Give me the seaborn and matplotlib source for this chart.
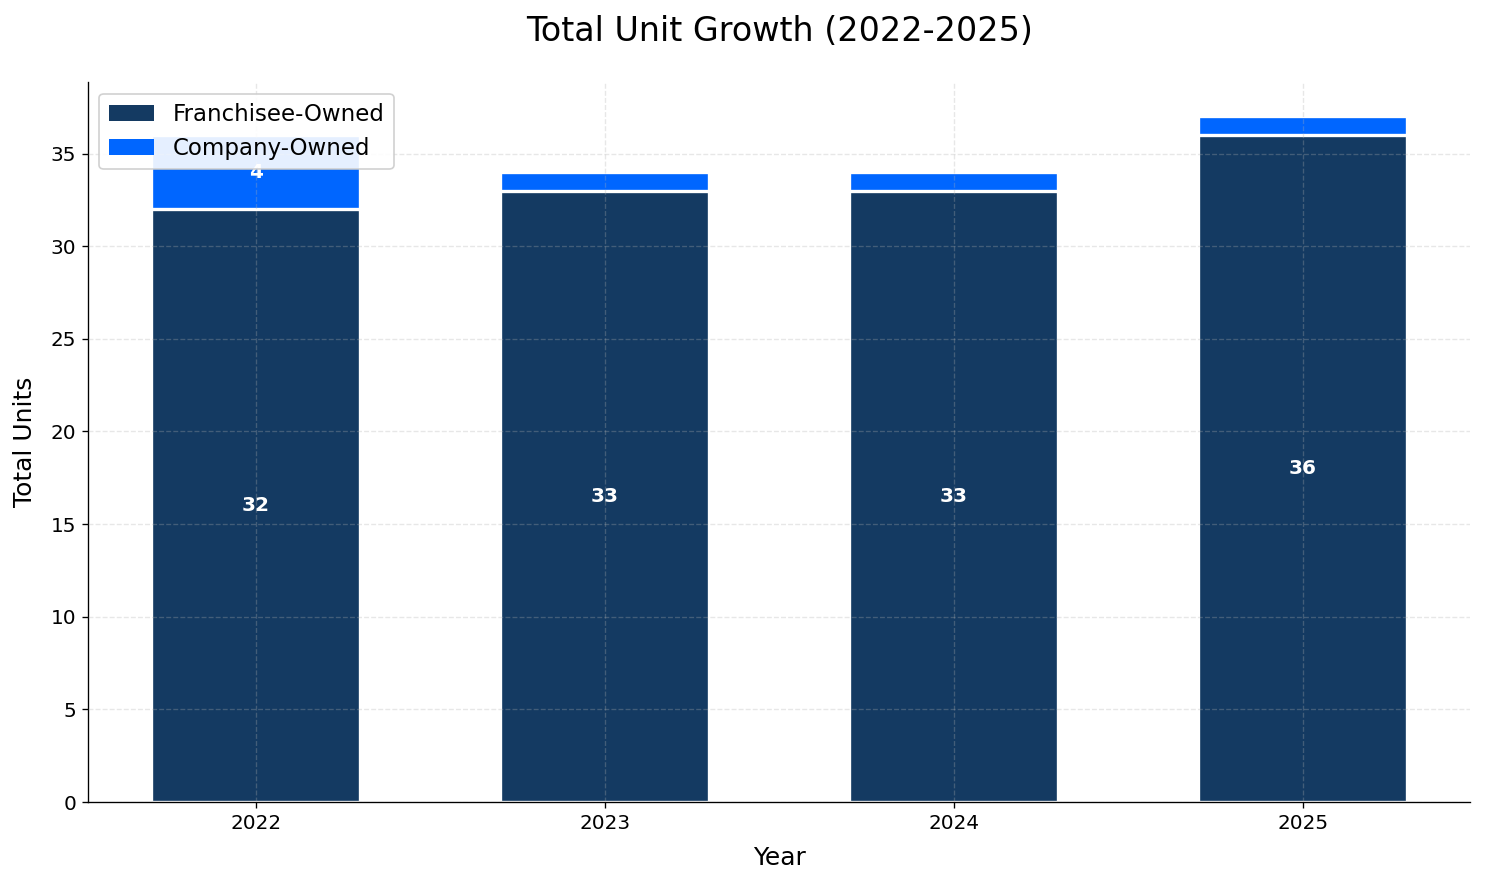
import pandas as pd
import seaborn as sns
import matplotlib.pyplot as plt
from matplotlib.patches import Patch

plt.rcParams['font.family'] = ['DejaVu Sans']

#################
## Data
#################
years = ["2022", "2023", "2024", "2025"]
franchisee_owned = [32, 33, 33, 36]
company_owned = [4, 1, 1, 1]

navy = "#143A62"
blue = "#0066FF"

df = pd.DataFrame({"Year": years,
                   "Franchisee": franchisee_owned,
                   "Company": company_owned})
df["Total"] = df["Franchisee"] + df["Company"]

#################
## Plot
#################
fig, ax = plt.subplots(figsize=(12.375, 7.367), dpi=120)
fig.subplots_adjust(left=0.0593, right=0.99, top=0.907, bottom=0.0928)

## totals first in company colour, franchisee on top of it
sns.barplot(data=df, x="Year", y="Total", color=blue, saturation=1,
            width=0.6, edgecolor="white", linewidth=2, ax=ax)
sns.barplot(data=df, x="Year", y="Franchisee", color=navy, saturation=1,
            width=0.6, edgecolor="white", linewidth=2, ax=ax)

## value labels
for i, row in df.iterrows():
    ax.text(i, row["Franchisee"] / 2, str(row["Franchisee"]), ha="center", va="center",
            color="white", fontsize=12, fontweight="bold", zorder=4)
    if row["Company"] > 1:
        ax.text(i, row["Franchisee"] + row["Company"] / 2, str(row["Company"]),
                ha="center", va="center", color="white", fontsize=12,
                fontweight="bold", zorder=4)

ax.set_axisbelow(False)
ax.grid(True, linestyle="--", alpha=0.3, linewidth=0.8)
ax.set_xlim(-0.48, 3.48)
ax.set_ylim(0, df["Total"].max() * 1.05)

ax.set_title("Total Unit Growth (2022-2025)", fontsize=20, pad=25)
ax.set_xlabel("Year", fontsize=15, labelpad=8)
ax.set_ylabel("Total Units", fontsize=15, labelpad=8)
ax.tick_params(labelsize=12)
sns.despine(ax=ax)

handles = [Patch(facecolor=navy, label="Franchisee-Owned"),
           Patch(facecolor=blue, label="Company-Owned")]
ax.legend(handles=handles, loc="upper left", fontsize=13.7, framealpha=0.9)

plt.savefig("out.png", dpi=120)
plt.close()
